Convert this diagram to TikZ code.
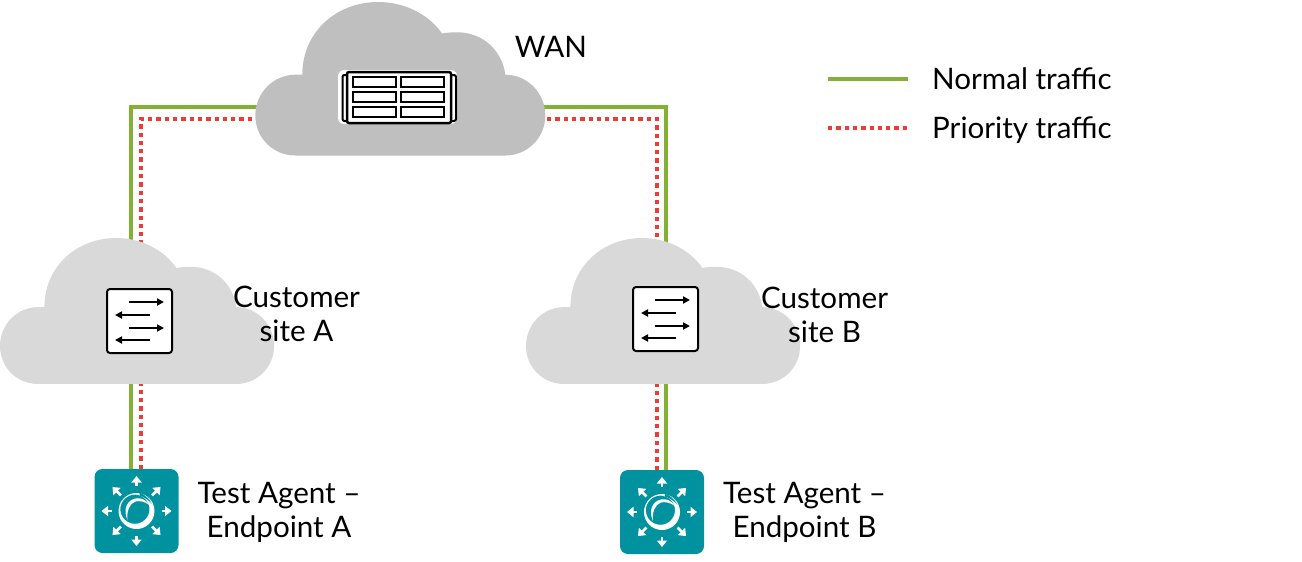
\documentclass[tikz,border=0pt]{standalone}
\usepackage{fontspec}
\setmainfont{Lato}
\usetikzlibrary{arrows.meta}
\definecolor{linegreen}{HTML}{84B135}
\definecolor{linered}{HTML}{EE3B33}
\definecolor{wangray}{HTML}{BFBFBF}
\definecolor{sitegray}{HTML}{D9D9D9}
\definecolor{agentteal}{HTML}{00939F}
\newcommand{\cloudshape}{(47,72.7) .. controls (47,30) and (81,0) .. (123,0)
  .. controls (147.8,0) and (172.5,11.2) .. (186.7,31.5)
  .. controls (192,30.5) and (197,30.3) .. (201.7,30.3)
  .. controls (228,30.3) and (247,49) .. (250,72.7)
  .. controls (272,72.7) and (290,91) .. (290,113.5)
  .. controls (290,136) and (272,153.5) .. (250,153.5)
  -- (40,153.5)
  .. controls (18,153.5) and (0,136) .. (0,113.5)
  .. controls (0,91) and (18,72.7) .. (40,72.7) -- cycle}
\newcommand{\switchicon}[1]{%
  \begin{scope}[shift={#1}]
    \draw[switchbox] (0,0) rectangle (65,64);
    \draw[switcharrow] (22,13) -- (57,13);
    \draw[switcharrow] (43,26) -- (8,26);
    \draw[switcharrow] (22,39) -- (57,39);
    \draw[switcharrow] (43,51) -- (8,51);
  \end{scope}}
\newcommand{\agenticon}[1]{%
  \begin{scope}[shift={#1}]
    \foreach \a/\ri/\ro in {0/25/35,90/25/35,180/25/35,270/25/35,45/22/34,135/22/34,225/22/34,315/22/34}{
      \draw[agentarrow] (\a:\ri) -- (\a:\ro);
    }
    % thick crescent, lower right; thin at upper left
    \fill[white,even odd rule] (0,0) circle (18) (-1.6,-1.8) circle (14.6);
    % teal cut at the upper right, opening the ring
    \fill[agentteal] (3,-18.5) .. controls (9,-16) and (13,-12) .. (15.5,-7)
      .. controls (12,-11) and (8,-14) .. (3,-15.5) -- cycle;
    % inner swirl
    \fill[white] (-9,9) .. controls (-14,-2) and (-9,-11) .. (-1,-12.5)
      .. controls (4,-13.5) and (9,-12) .. (13,-6)
      .. controls (8,-9.5) and (3,-10.5) .. (-1,-9.5)
      .. controls (-7,-7.5) and (-10,0) .. (-9,9) -- cycle;
  \end{scope}}
\tikzset{
  x=1pt,y=-1pt,
  greenline/.style={draw=linegreen,line width=4pt,line join=miter},
  redline/.style={draw=linered,line width=4pt,dash pattern=on 4.3pt off 4pt},
  labeltext/.style={font=\fontsize{29.6}{34}\selectfont,align=center,inner sep=0pt,text=black},
  legendtext/.style={labeltext,anchor=base west},
  switchbox/.style={draw=black,fill=white,line width=2pt,rounded corners=3pt},
  switcharrow/.style={draw=black,line width=1.8pt,-{Triangle[length=7pt,width=7pt]}},
  agentbox/.style={fill=agentteal,rounded corners=8pt,minimum width=84pt,minimum height=84pt,inner sep=0pt},
  agentarrow/.style={draw=white,line width=2.6pt,-{Triangle[length=6.5pt,width=10pt]}},
  wancell/.style={draw=black,fill=white,line width=1.8pt},
}
\begin{document}
\begin{tikzpicture}[x=1pt,y=-1pt]
\useasboundingbox (0,0) rectangle (1302,562);
% anchors
\node[agentbox] (agentA) at (136.5,511) {};
\node[agentbox] (agentB) at (662,512) {};
\coordinate (wanL) at (300,112);
\coordinate (wanR) at (500,112);
% connectors
\draw[greenline] ([xshift=-5.5pt]agentA.north) |- (wanL |- 0,107);
\draw[greenline] ([xshift=4pt]agentB.north) |- (wanR |- 0,107);
\draw[redline] ([xshift=4.5pt]agentA.north) |- (wanL |- 0,119);
\draw[redline] ([xshift=-5pt]agentB.north) |- (wanR |- 0,119);
% clouds
\fill[wangray,shift={(255.3,2)}] \cloudshape;
\fill[sitegray,shift={(0,238)},xscale=.945,yscale=.951] \cloudshape;
\fill[sitegray,shift={(526,238)},xscale=.945,yscale=.951] \cloudshape;
% WAN icon
\fill[white,rounded corners=6pt] (338,70) rectangle (457,124);
\draw[black,line width=2pt,rounded corners=2pt,fill=white] (342.5,75) rectangle (456,121);
\draw[black,fill=white,line width=2.5pt,rounded corners=2pt] (347,72) rectangle (451,123);
\foreach \cy in {77,92,107}{
  \draw[wancell] (353,\cy) rectangle (396,\cy+10);
  \draw[wancell] (401,\cy) rectangle (444,\cy+10);
}
% switches
\switchicon{(107,289)}
\switchicon{(633,287)}
% agents
\agenticon{(136.5,511)}
\agenticon{(662,512)}
% labels
\node[labeltext] (wanlabel) at (551,47) {WAN};
\node[labeltext] (siteAlabel) at (296.5,314) {Customer\\site A};
\node[labeltext] (siteBlabel) at (824.5,315) {Customer\\site B};
\node[labeltext] (agentAlabel) at (279,512) {Test Agent –\\Endpoint A};
\node[labeltext] (agentBlabel) at (804.5,512) {Test Agent –\\Endpoint B};
% legend
\coordinate (lg1) at (828,78.5);
\coordinate (lg2) at (908,78.5);
\coordinate (lr1) at (828,128);
\coordinate (lr2) at (908,128);
\draw[greenline] (lg1) -- (lg2);
\draw[redline] (lr1) -- (lr2);
\node[legendtext] (normallabel) at (932,89.5) {Normal traffic};
\node[legendtext] (prioritylabel) at (932,138) {Priority traffic};
\end{tikzpicture}
\end{document}
